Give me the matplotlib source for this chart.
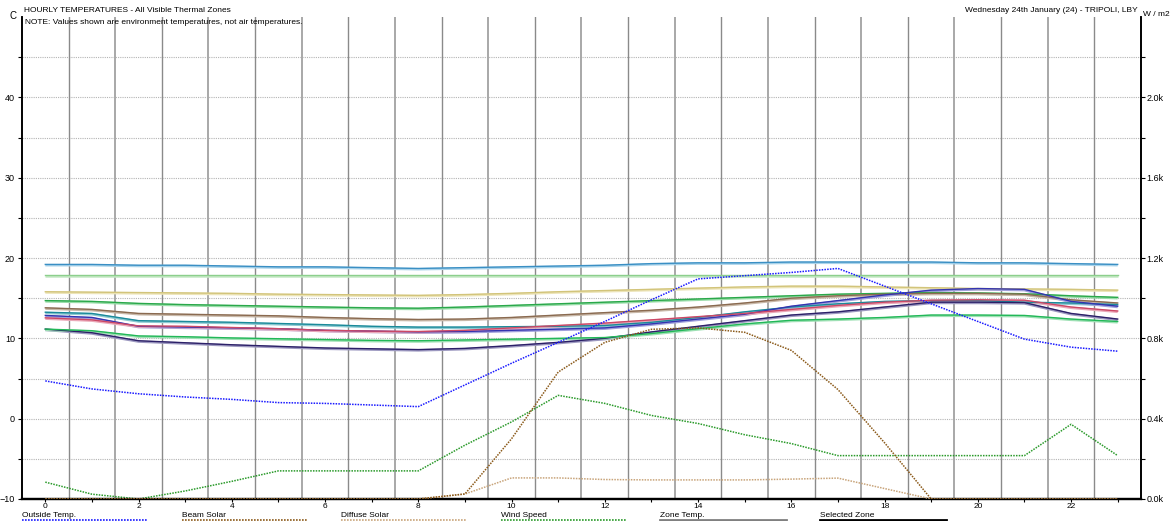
import matplotlib.pyplot as plt
import numpy as np

plt.rcParams["font.family"] = ["Liberation Sans", "DejaVu Sans"]

hours = list(range(24))

outside_temp = [4.7, 3.7, 3.1, 2.7, 2.4, 2.0, 1.9, 1.7, 1.5, 4.2, 6.9, 9.5, 12.1, 14.8, 17.4,
                17.8, 18.2, 18.7, 16.5, 14.3, 12.1, 9.9, 8.9, 8.4]
beam_solar = [0, 0, 0, 0, 0, 0, 0, 0, 0, 25, 300, 632, 780, 845, 852, 830, 740, 545, 280,
              0, 0, 0, 0, 0]
diffuse_solar = [0, 0, 0, 0, 0, 0, 0, 0, 0, 25, 105, 105, 97, 95, 95, 95, 99, 104, 52,
                 0, 0, 0, 0, 0]
# wind speed as drawn against the temperature scale
wind_speed = [-7.9, -9.4, -10.0, -9.0, -7.8, -6.5, -6.5, -6.5, -6.5, -3.3, -0.4, 2.9, 1.9,
              0.4, -0.6, -2.0, -3.1, -4.6, -4.6, -4.6, -4.6, -4.6, -0.7, -4.6]

zone_temps = {
    "A": [19.2, 19.2, 19.1, 19.1, 19.0, 18.9, 18.9, 18.8, 18.7, 18.8, 18.9, 19.0, 19.1, 19.3,
          19.4, 19.4, 19.5, 19.5, 19.5, 19.5, 19.4, 19.4, 19.3, 19.2],
    "B": [17.85] * 24,
    "C": [15.8, 15.75, 15.7, 15.65, 15.6, 15.5, 15.45, 15.4, 15.35, 15.45, 15.6, 15.8, 15.95,
          16.1, 16.25, 16.4, 16.5, 16.5, 16.4, 16.3, 16.2, 16.15, 16.1, 16.0],
    "D": [14.7, 14.6, 14.35, 14.2, 14.1, 14.0, 13.9, 13.8, 13.75, 13.9, 14.1, 14.3, 14.5,
          14.7, 14.9, 15.1, 15.3, 15.5, 15.6, 15.7, 15.65, 15.55, 15.3, 15.1],
    "E": [13.8, 13.6, 13.1, 13.0, 12.9, 12.8, 12.6, 12.45, 12.35, 12.4, 12.6, 12.9, 13.2,
          13.5, 13.9, 14.4, 15.0, 15.3, 15.5, 15.6, 15.6, 15.5, 14.8, 14.4],
    "F": [13.25, 13.1, 12.2, 12.1, 12.0, 11.85, 11.7, 11.5, 11.4, 11.4, 11.45, 11.5, 11.6,
          12.0, 12.6, 13.3, 13.9, 14.3, 14.6, 14.7, 14.7, 14.5, 14.4, 14.2],
    "G": [12.85, 12.6, 11.5, 11.4, 11.3, 11.2, 11.0, 10.9, 10.8, 10.85, 11.0, 11.15, 11.3,
          11.8, 12.4, 13.0, 14.0, 14.7, 15.4, 16.0, 16.2, 16.1, 14.6, 14.0],
    "H": [12.55, 12.3, 11.55, 11.5, 11.35, 11.2, 11.0, 10.9, 10.85, 11.0, 11.3, 11.6, 11.9,
          12.3, 12.7, 13.1, 13.6, 14.1, 14.5, 14.75, 14.8, 14.75, 13.9, 13.4],
    "I": [11.15, 10.7, 9.7, 9.45, 9.2, 9.0, 8.8, 8.7, 8.6, 8.75, 9.1, 9.5, 10.0, 10.8, 11.5,
          12.2, 12.9, 13.3, 13.9, 14.5, 14.5, 14.45, 13.1, 12.4],
    "J": [11.15, 10.95, 10.3, 10.2, 10.05, 9.95, 9.85, 9.75, 9.7, 9.8, 9.9, 10.0, 10.1, 10.6,
          11.2, 11.8, 12.25, 12.4, 12.6, 12.9, 12.9, 12.85, 12.4, 12.1],
}
zone_colors = {
    "A": ("#3a8fc4", "#a9d3ea"),
    "B": ("#8ccf8c", "#c4e8c4"),
    "C": ("#d2c47a", "#ece4b8"),
    "D": ("#2aa84a", "#98dca8"),
    "E": ("#8a6a50", "#c8b8a8"),
    "F": ("#1a8a9a", "#8ccad2"),
    "G": ("#3434b0", "#a0a0dc"),
    "H": ("#cc4866", "#eaa8b8"),
    "I": ("#2c2068", "#9c98c0"),
    "J": ("#22b858", "#9ee0b4"),
}

legend_items = [
    ("Outside Temp.", "#1a1aff", ":", 1.2),
    ("Beam Solar", "#8b5a1a", ":", 1.2),
    ("Diffuse Solar", "#c8a47a", ":", 1.2),
    ("Wind Speed", "#2a9a2a", ":", 1.2),
    ("Zone Temp.", "#808080", "-", 2.0),
    ("Selected Zone", "#000000", "-", 2.0),
]

fig = plt.figure(figsize=(11.71, 5.21), dpi=100)
ax = fig.add_axes([22 / 1171, 22 / 521, (1141 - 22) / 1171, (499 - 17) / 521])
ax2 = ax.twinx()

ax.set_xlim(-0.5, 23.5)
ax.set_ylim(-10, 50)
ax2.set_ylim(0, 2400)

# grid
for yv in np.arange(-5, 50, 5):
    ax.axhline(yv, color="#b4b4b4", lw=0.8, ls=(0, (1, 1)), zorder=0)
for i, xv in enumerate(np.arange(0.5, 23, 1.0)):
    ax.axvline(xv, color="#8a8a8a" if i % 2 == 0 else "#a8a8a8",
               lw=1.0 if i % 2 == 0 else 1.4, zorder=0)

# zone temperatures with light halo
for key, vals in zone_temps.items():
    core, halo = zone_colors[key]
    ax.plot(np.array(hours), np.array(vals) - 0.1, color=halo, lw=1.8, zorder=2,
            solid_capstyle="butt")
    ax.plot(hours, vals, color=core, lw=1.0, zorder=3)

ax.plot(hours, outside_temp, color="#1a1aff", lw=1.1, ls=(0, (1, 0.8)), zorder=4)
ax.plot(hours, wind_speed, color="#2a9a2a", lw=1.1, ls=(0, (1, 0.8)), zorder=4)
ax2.plot(hours, diffuse_solar, color="#c8a47a", lw=1.1, ls=(0, (1, 0.8)), zorder=4)
ax2.plot(hours, beam_solar, color="#8b5a1a", lw=1.1, ls=(0, (1, 0.8)), zorder=4)

# axes styling
for a in (ax, ax2):
    a.spines["top"].set_visible(False)
    a.spines["left"].set_linewidth(1.2)
    a.spines["right"].set_linewidth(1.2)
    a.spines["bottom"].set_linewidth(1.6)
ax.set_xticks(range(0, 24, 2))
ax.set_xticks(range(0, 24), minor=True)
ax.set_yticks(range(-10, 50, 10))
ax.set_yticks(range(-10, 50, 5), minor=True)
ax.tick_params(axis="x", which="major", labelsize=6, length=2.5, width=0.8, pad=0.5)
ax.tick_params(axis="x", which="minor", length=2.5, width=0.8)
ax.tick_params(axis="y", which="major", labelsize=6.5, length=3, width=0.8, pad=2)
ax.tick_params(axis="y", which="minor", length=3, width=0.8)
ax2.set_yticks(range(0, 2401, 400)[:-1])
ax2.set_yticks(range(0, 2400, 200), minor=True)
ax2.set_yticklabels([f"{v / 1000:.1f}k" for v in range(0, 2401, 400)[:-1]])
ax2.tick_params(axis="y", which="major", labelsize=6.5, length=3, width=0.8, pad=1)
ax2.tick_params(axis="y", which="minor", length=3, width=0.8)

# texts
fs = 6
fig.text(9 / 1171, 1 - 16 / 521, "C", fontsize=7, va="center", ha="left")
fig.text(24 / 1171, 1 - 10 / 521, "HOURLY TEMPERATURES - All Visible Thermal Zones",
         fontsize=fs, va="center", ha="left")
fig.text(25 / 1171, 1 - 22 / 521,
         "NOTE: Values shown are environment temperatures, not air temperatures.",
         fontsize=fs, va="center", ha="left")
fig.text(1138 / 1171, 1 - 11 / 521, "Wednesday 24th January (24) - TRIPOLI, LBY",
         fontsize=fs, va="center", ha="right")
fig.text(1143 / 1171, 1 - 14 / 521, "W / m2", fontsize=fs, va="center", ha="left")

# legend along the bottom
for i, (label, col, ls, lw) in enumerate(legend_items):
    x0 = 22 + i * 159.5
    fig.text(x0 / 1171, 1 - 515.5 / 521, label, fontsize=fs, va="center", ha="left")
    fig.add_artist(plt.Line2D([x0 / 1171, (x0 + 126) / 1171], [1 - 520 / 521] * 2,
                              color=col, ls=ls if ls == "-" else (0, (1, 0.8)), lw=lw,
                              transform=fig.transFigure))

fig.savefig("out.png", dpi=100)
